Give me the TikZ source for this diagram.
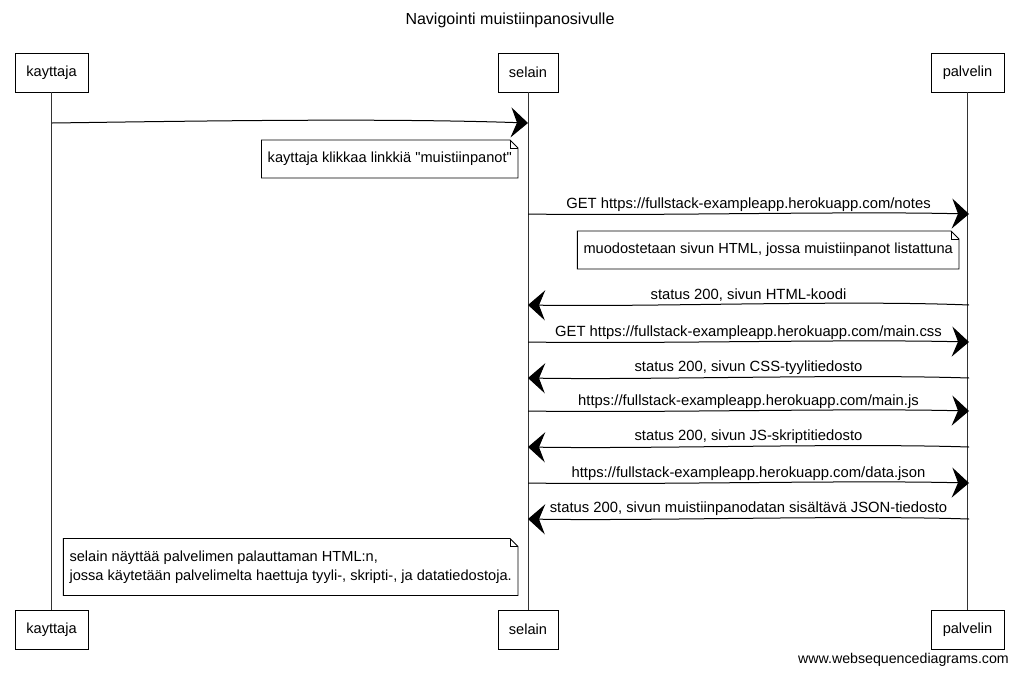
\documentclass[tikz,border=0pt]{standalone}
\usepackage{fontspec}
\setmainfont{Liberation Sans}
\newfontfamily\plainsans{Liberation Sans}
\usetikzlibrary{arrows.meta}
\tikzset{
  txt/.style={font=\fontsize{14.6}{17}\selectfont},
  actor/.style={txt, draw, line width=0.9pt, minimum height=39pt, inner sep=0pt},
  lbl/.style={font=\fontsize{14.8}{17}\selectfont, inner sep=0pt, above=2pt},
  msg/.style={line width=1pt, -{Stealth[length=17pt,width=30pt,inset=6pt]}},
  life/.style={line width=0.8pt, draw=black!80},
  notebox/.style={font=\fontsize{14.6}{19}\selectfont\plainsans, align=left, inner xsep=6pt, inner ysep=12pt, anchor=east},
  noteline/.style={line width=0.9pt}
}
\begin{document}
\begin{tikzpicture}[x=1pt,y=-1pt]
\useasboundingbox (0,0) rectangle (1019,675);

% title
\node[font=\fontsize{16}{19}\selectfont] (title) at (510,20) {Navigointi muistiinpanosivulle};

% actors
\node[actor, minimum width=73pt] (kT) at (51.5,72.5) {kayttaja};
\node[actor, minimum width=60pt] (sT) at (528,72.5) {selain};
\node[actor, minimum width=73pt] (pT) at (967.5,72.5) {palvelin};
\node[actor, minimum width=73pt] (kB) at (51.5,629.5) {kayttaja};
\node[actor, minimum width=60pt] (sB) at (528,629.5) {selain};
\node[actor, minimum width=73pt] (pB) at (967.5,629.5) {palvelin};

% lifelines
\draw[life] (kT) -- (kB);
\draw[life] (sT) -- (sB);
\draw[life] (pT) -- (pB);

% message endpoints
\coordinate (k1) at (52,123);  \coordinate (s1) at (528,123);
\coordinate (s2) at (528,214); \coordinate (p2) at (969,214);
\coordinate (p3) at (969,305); \coordinate (s3) at (528,305);
\coordinate (s4) at (528,342); \coordinate (p4) at (969,342);
\coordinate (p5) at (969,378); \coordinate (s5) at (528,378);
\coordinate (s6) at (528,411); \coordinate (p6) at (969,411);
\coordinate (p7) at (969,447); \coordinate (s7) at (528,447);
\coordinate (s8) at (528,483); \coordinate (p8) at (969,483);
\coordinate (p9) at (969,519); \coordinate (s9) at (528,519);

% messages
\draw[msg] (k1) .. controls (200,121) and (380,118) .. (s1);
\draw[msg] (s2) .. controls (650,216) and (847,211) .. (p2) node[lbl, midway] (l2) {GET https://fullstack-exampleapp.herokuapp.com/notes};
\draw[msg] (p3) .. controls (847,300) and (650,307) .. (s3) node[lbl, midway] (l3) {status 200, sivun HTML-koodi};
\draw[msg] (s4) .. controls (650,344) and (847,339) .. (p4) node[lbl, midway] (l4) {GET https://fullstack-exampleapp.herokuapp.com/main.css};
\draw[msg] (p5) .. controls (847,374) and (650,380) .. (s5) node[lbl, midway] (l5) {status 200, sivun CSS-tyylitiedosto};
\draw[msg] (s6) .. controls (650,413) and (847,408) .. (p6) node[lbl, midway] (l6) {https://fullstack-exampleapp.herokuapp.com/main.js};
\draw[msg] (p7) .. controls (847,443) and (650,449) .. (s7) node[lbl, midway] (l7) {status 200, sivun JS-skriptitiedosto};
\draw[msg] (s8) .. controls (650,485) and (847,480) .. (p8) node[lbl, midway] (l8) {https://fullstack-exampleapp.herokuapp.com/data.json};
\draw[msg] (p9) .. controls (847,515) and (650,521) .. (s9) node[lbl, midway] (l9) {status 200, sivun muistiinpanodatan sisältävä JSON-tiedosto};

% notes
\node[notebox] (n1) at (518,159) {kayttaja klikkaa linkkiä "muistiinpanot"};
\node[notebox] (n2) at (959,250) {muodostetaan sivun HTML, jossa muistiinpanot listattuna};
\node[notebox] (n3) at (518,567) {selain näyttää palvelimen palauttaman HTML:n,\\jossa käytetään palvelimelta haettuja tyyli-, skripti-, ja datatiedostoja.};
\foreach \n in {n1,n2,n3} {
  \draw[noteline] (\n.north west) -- ([xshift=-8pt]\n.north east) -- ([yshift=-8pt]\n.north east) -- (\n.south east) -- (\n.south west) -- cycle;
  \draw[noteline] ([xshift=-8pt]\n.north east) |- ([yshift=-8pt]\n.north east);
}

% footer
\node[font=\fontsize{14.2}{17}\selectfont, anchor=east, inner sep=0pt] (footer) at (1009,660) {www.websequencediagrams.com};
\end{tikzpicture}
\end{document}
